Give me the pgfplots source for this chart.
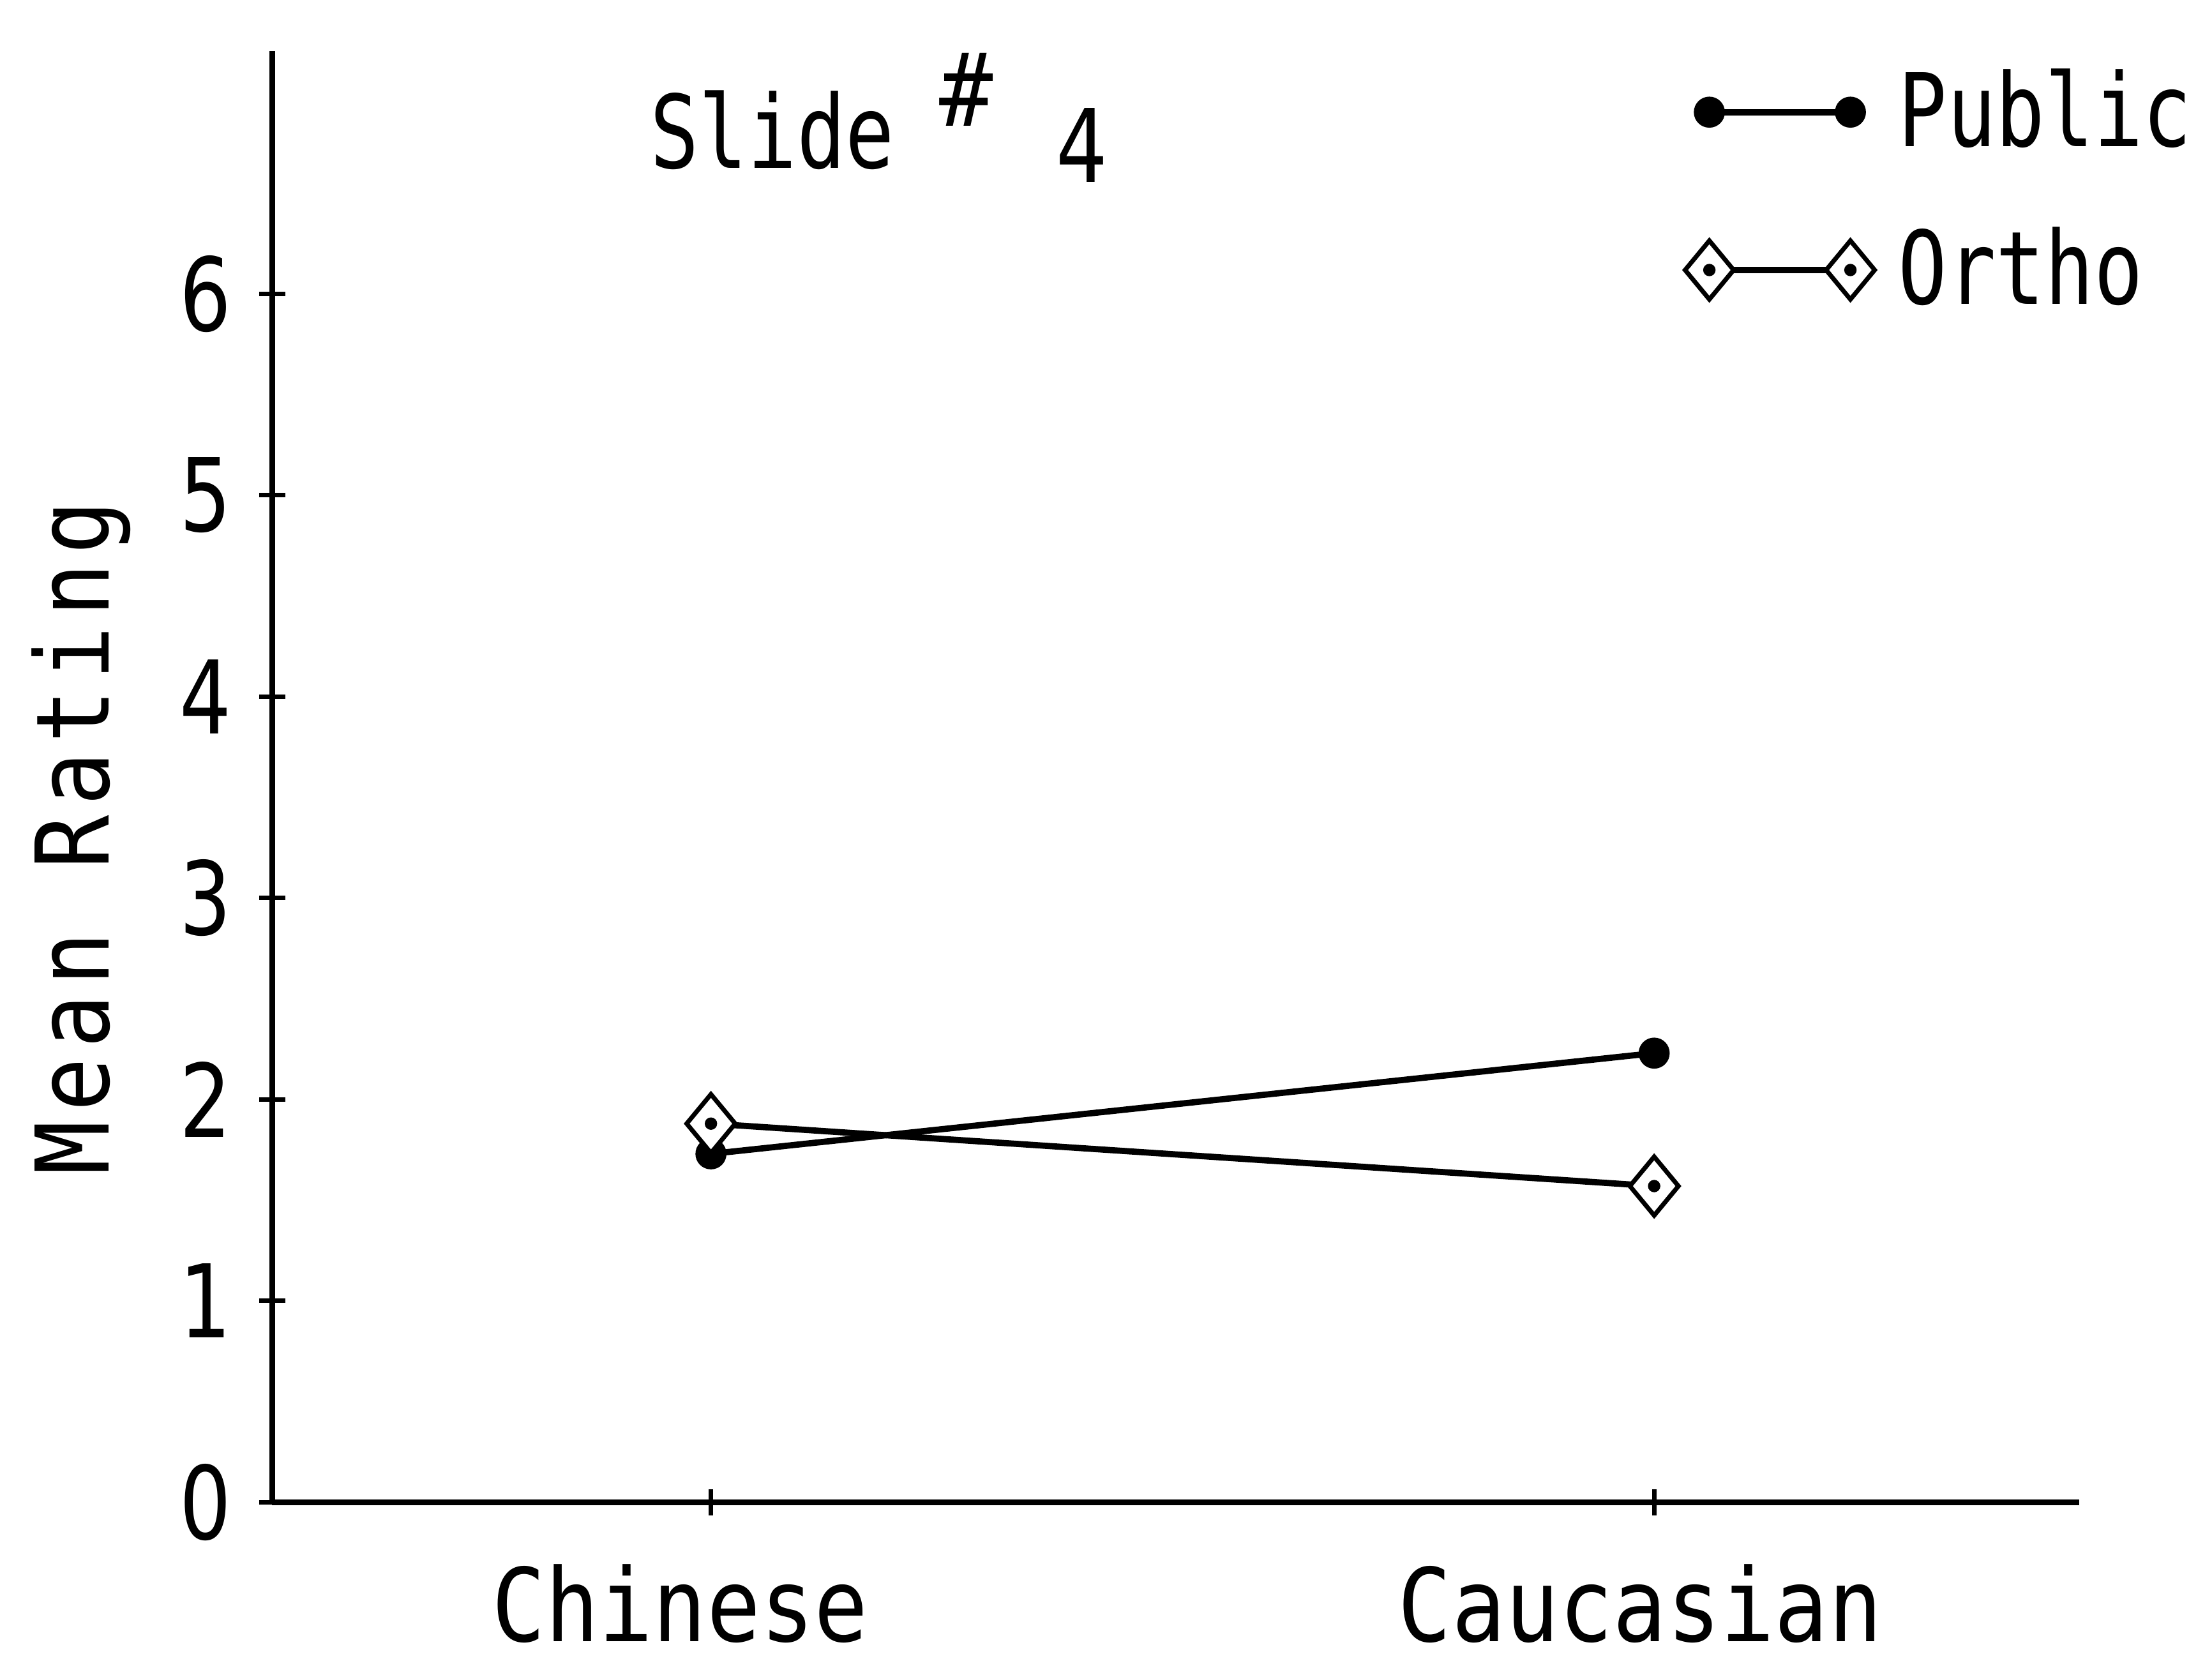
\documentclass[border=0pt]{standalone}
\usepackage{fontspec}
\setmainfont{DejaVu Sans Mono}[FakeStretch=0.88]
\newfontfamily\ylabfont{DejaVu Sans Mono}[FakeStretch=0.88,LetterSpace=9]
\newfontfamily\legfont{DejaVu Sans Mono}[FakeStretch=0.8]
\newfontfamily\digfont{DejaVu Sans}[FakeStretch=0.8]
\usepackage{pgfplots}
\pgfplotsset{compat=1.18}
\pgfdeclareplotmark{dotdiamond}{%
  \pgfpathmoveto{\pgfqpoint{0pt}{5.2pt}}%
  \pgfpathlineto{\pgfqpoint{4.3pt}{0pt}}%
  \pgfpathlineto{\pgfqpoint{0pt}{-5.2pt}}%
  \pgfpathlineto{\pgfqpoint{-4.3pt}{0pt}}%
  \pgfpathclose
  \pgfsetfillcolor{white}\pgfusepathqfillstroke
  \pgfpathcircle{\pgfpointorigin}{1.1pt}%
  \pgfsetfillcolor{black}\pgfusepathqfill}
\newcommand{\bigf}{\fontsize{18}{21}\selectfont}
\begin{document}
\begin{tikzpicture}
\begin{axis}[
  name=ax,
  scale only axis,
  width=320.25pt, height=257.25pt,
  xmin=0.5349, xmax=2.4508,
  ymin=0, ymax=7.206,
  axis lines*=left,
  axis line style={line width=1pt},
  tick align=center,
  major tick length=4.6pt,
  tick style={line width=0.8pt, black},
  xtick={1,2}, xticklabels={Chinese\hspace*{11pt},Caucasian\hspace*{5pt}},
  ytick={0,1,2,3,4,5,6},
  /pgf/number format/assume math mode=true,
  ticklabel style={font=\bigf},
  xticklabel style={inner sep=0pt, anchor=north, yshift=-8.5pt},
  yticklabel style={font=\bigf\digfont, inner sep=0pt, anchor=east, xshift=-4.75pt},
  ylabel={\ylabfont Mean Rating},
  ylabel style={font=\bigf, at={(rel axis cs:-0.0906,0.458)}, anchor=base, inner sep=0pt},
  clip=false,
  legend style={at={(rel axis cs:0.779,0.994)}, anchor=north west, draw=none, fill=none,
    inner sep=0pt, row sep=9.75pt, font=\bigf\legfont, nodes={inner sep=1.5pt}},
  legend cell align=left,
  legend image code/.code={%
    \pgfpathrectangle{\pgfpoint{-5pt}{-5.5pt}}{\pgfpoint{37pt}{11pt}}\pgfusepath{use as bounding box}%
    \draw[#1,mark repeat=1,mark phase=1] plot coordinates {(0pt,0pt) (25pt,0pt)};},
]
\addplot[black, line width=1.1pt, mark=*, mark size=2.2pt, mark options={solid, fill=black}]
  coordinates {(1,1.73) (2,2.23)};
\addlegendentry{Public}
\addplot[black, line width=1.1pt, mark=dotdiamond, mark options={solid, line width=0.8pt}]
  coordinates {(1,1.88) (2,1.57)};
\addlegendentry{Ortho}
\node[font=\bigf\legfont, anchor=base west, inner sep=0pt, xshift=-1pt] at (rel axis cs:0.2115,0.919) {Slide};
\node[font=\bigf, anchor=south west, inner sep=0pt] at (rel axis cs:0.3685,0.9475) {\#};
\node[font=\bigf\digfont, anchor=south west, inner sep=0pt] at (rel axis cs:0.4333,0.9087) {4};
\end{axis}
\pgfresetboundingbox
\path[use as bounding box] (ax.south west) ++(-48.25pt,-29.25pt) rectangle ++(392pt,295.5pt);
\end{tikzpicture}
\end{document}
